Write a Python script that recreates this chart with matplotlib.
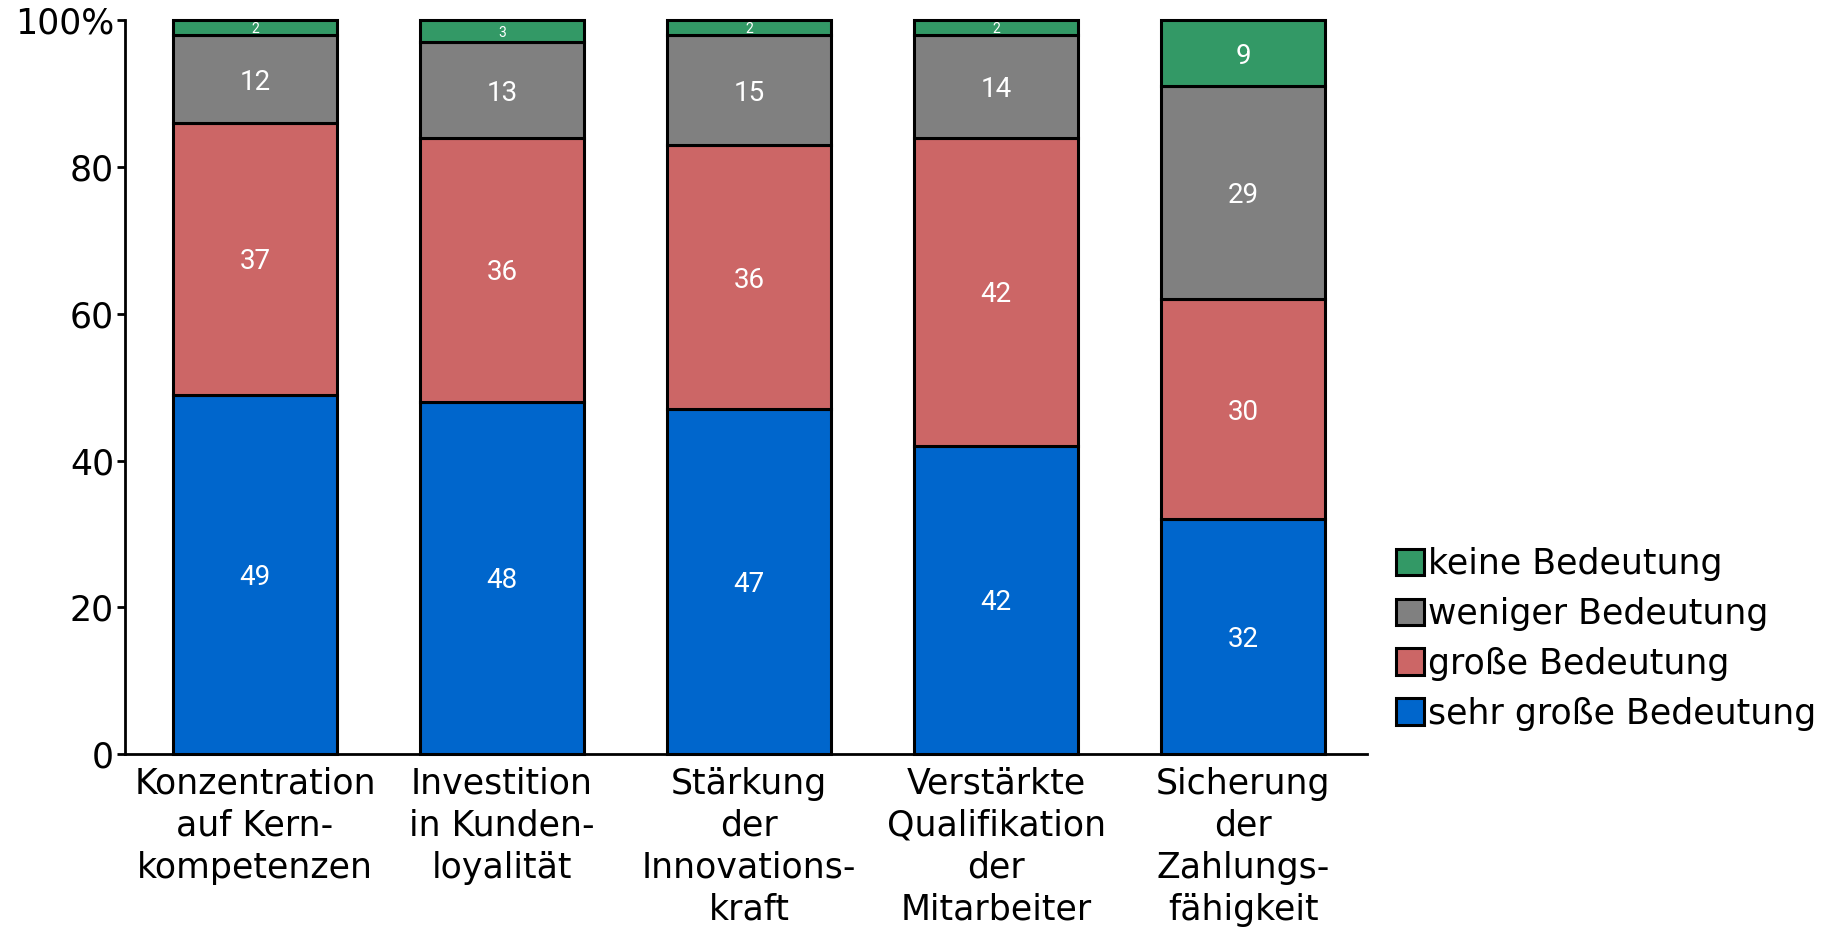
import matplotlib
matplotlib.use("Agg")
import matplotlib.pyplot as plt
import numpy as np

categories = [
    "Konzentration\nauf Kern-\nkompetenzen",
    "Investition\nin Kunden-\nloyalität",
    "Stärkung\nder\nInnovations-\nkraft",
    "Verstärkte\nQualifikation\nder\nMitarbeiter",
    "Sicherung\nder\nZahlungs-\nfähigkeit",
]
sehr_gross = [49, 48, 47, 42, 32]
gross = [37, 36, 36, 42, 30]
weniger = [12, 13, 15, 14, 29]
keine = [2, 3, 2, 2, 9]

series = [
    ("sehr große Bedeutung", sehr_gross, "#0066CC"),
    ("große Bedeutung", gross, "#CC6666"),
    ("weniger Bedeutung", weniger, "#808080"),
    ("keine Bedeutung", keine, "#339966"),
]
yticks = [0, 20, 40, 60, 80, 100]
ytick_labels = ["0", "20", "40", "60", "80", "100%"]

plt.rcParams["font.family"] = ["DejaVu Sans"]

fig = plt.figure(figsize=(18.34, 9.27), dpi=100)
ax = fig.add_axes([0.0682, 0.1866, 0.677, 0.7914])

x = np.arange(len(categories))
bottom = np.zeros(len(categories))
handles = []
for name, vals, color in series:
    vals = np.array(vals, dtype=float)
    bars = ax.bar(x, vals, width=0.665, bottom=bottom, color=color,
                  edgecolor="black", linewidth=2.2, label=name, clip_on=False)
    handles.append(bars)
    for xi, v, b in zip(x, vals, bottom):
        small = v < 5
        ax.text(xi, b + v / 2, f"{int(v)}", ha="center", va="center_baseline",
                color="white", fontsize=10 if small else 20,
                family="Roboto")
    bottom += vals

ax.set_xlim(-0.526, 4.5)
ax.set_ylim(0, 100)
ax.set_yticks(yticks)
ax.set_yticklabels(ytick_labels, fontsize=25)
ax.set_xticks(x)
ax.set_xticklabels(categories, fontsize=25, linespacing=1.3, va="top")
ax.tick_params(axis="x", length=0, pad=9)
ax.tick_params(axis="y", length=6, width=2, pad=2)
ax.spines["top"].set_visible(False)
ax.spines["right"].set_visible(False)
ax.spines["left"].set_linewidth(2)
ax.spines["bottom"].set_linewidth(2)

ax.legend(handles[::-1], [s[0] for s in series][::-1], loc="center left",
          bbox_to_anchor=(1.024, 0.157), frameon=False, fontsize=25,
          handlelength=0.8, handleheight=0.8, handletextpad=0.1,
          labelspacing=0.46, borderpad=0, borderaxespad=0)

fig.savefig("out.png", dpi=100)
